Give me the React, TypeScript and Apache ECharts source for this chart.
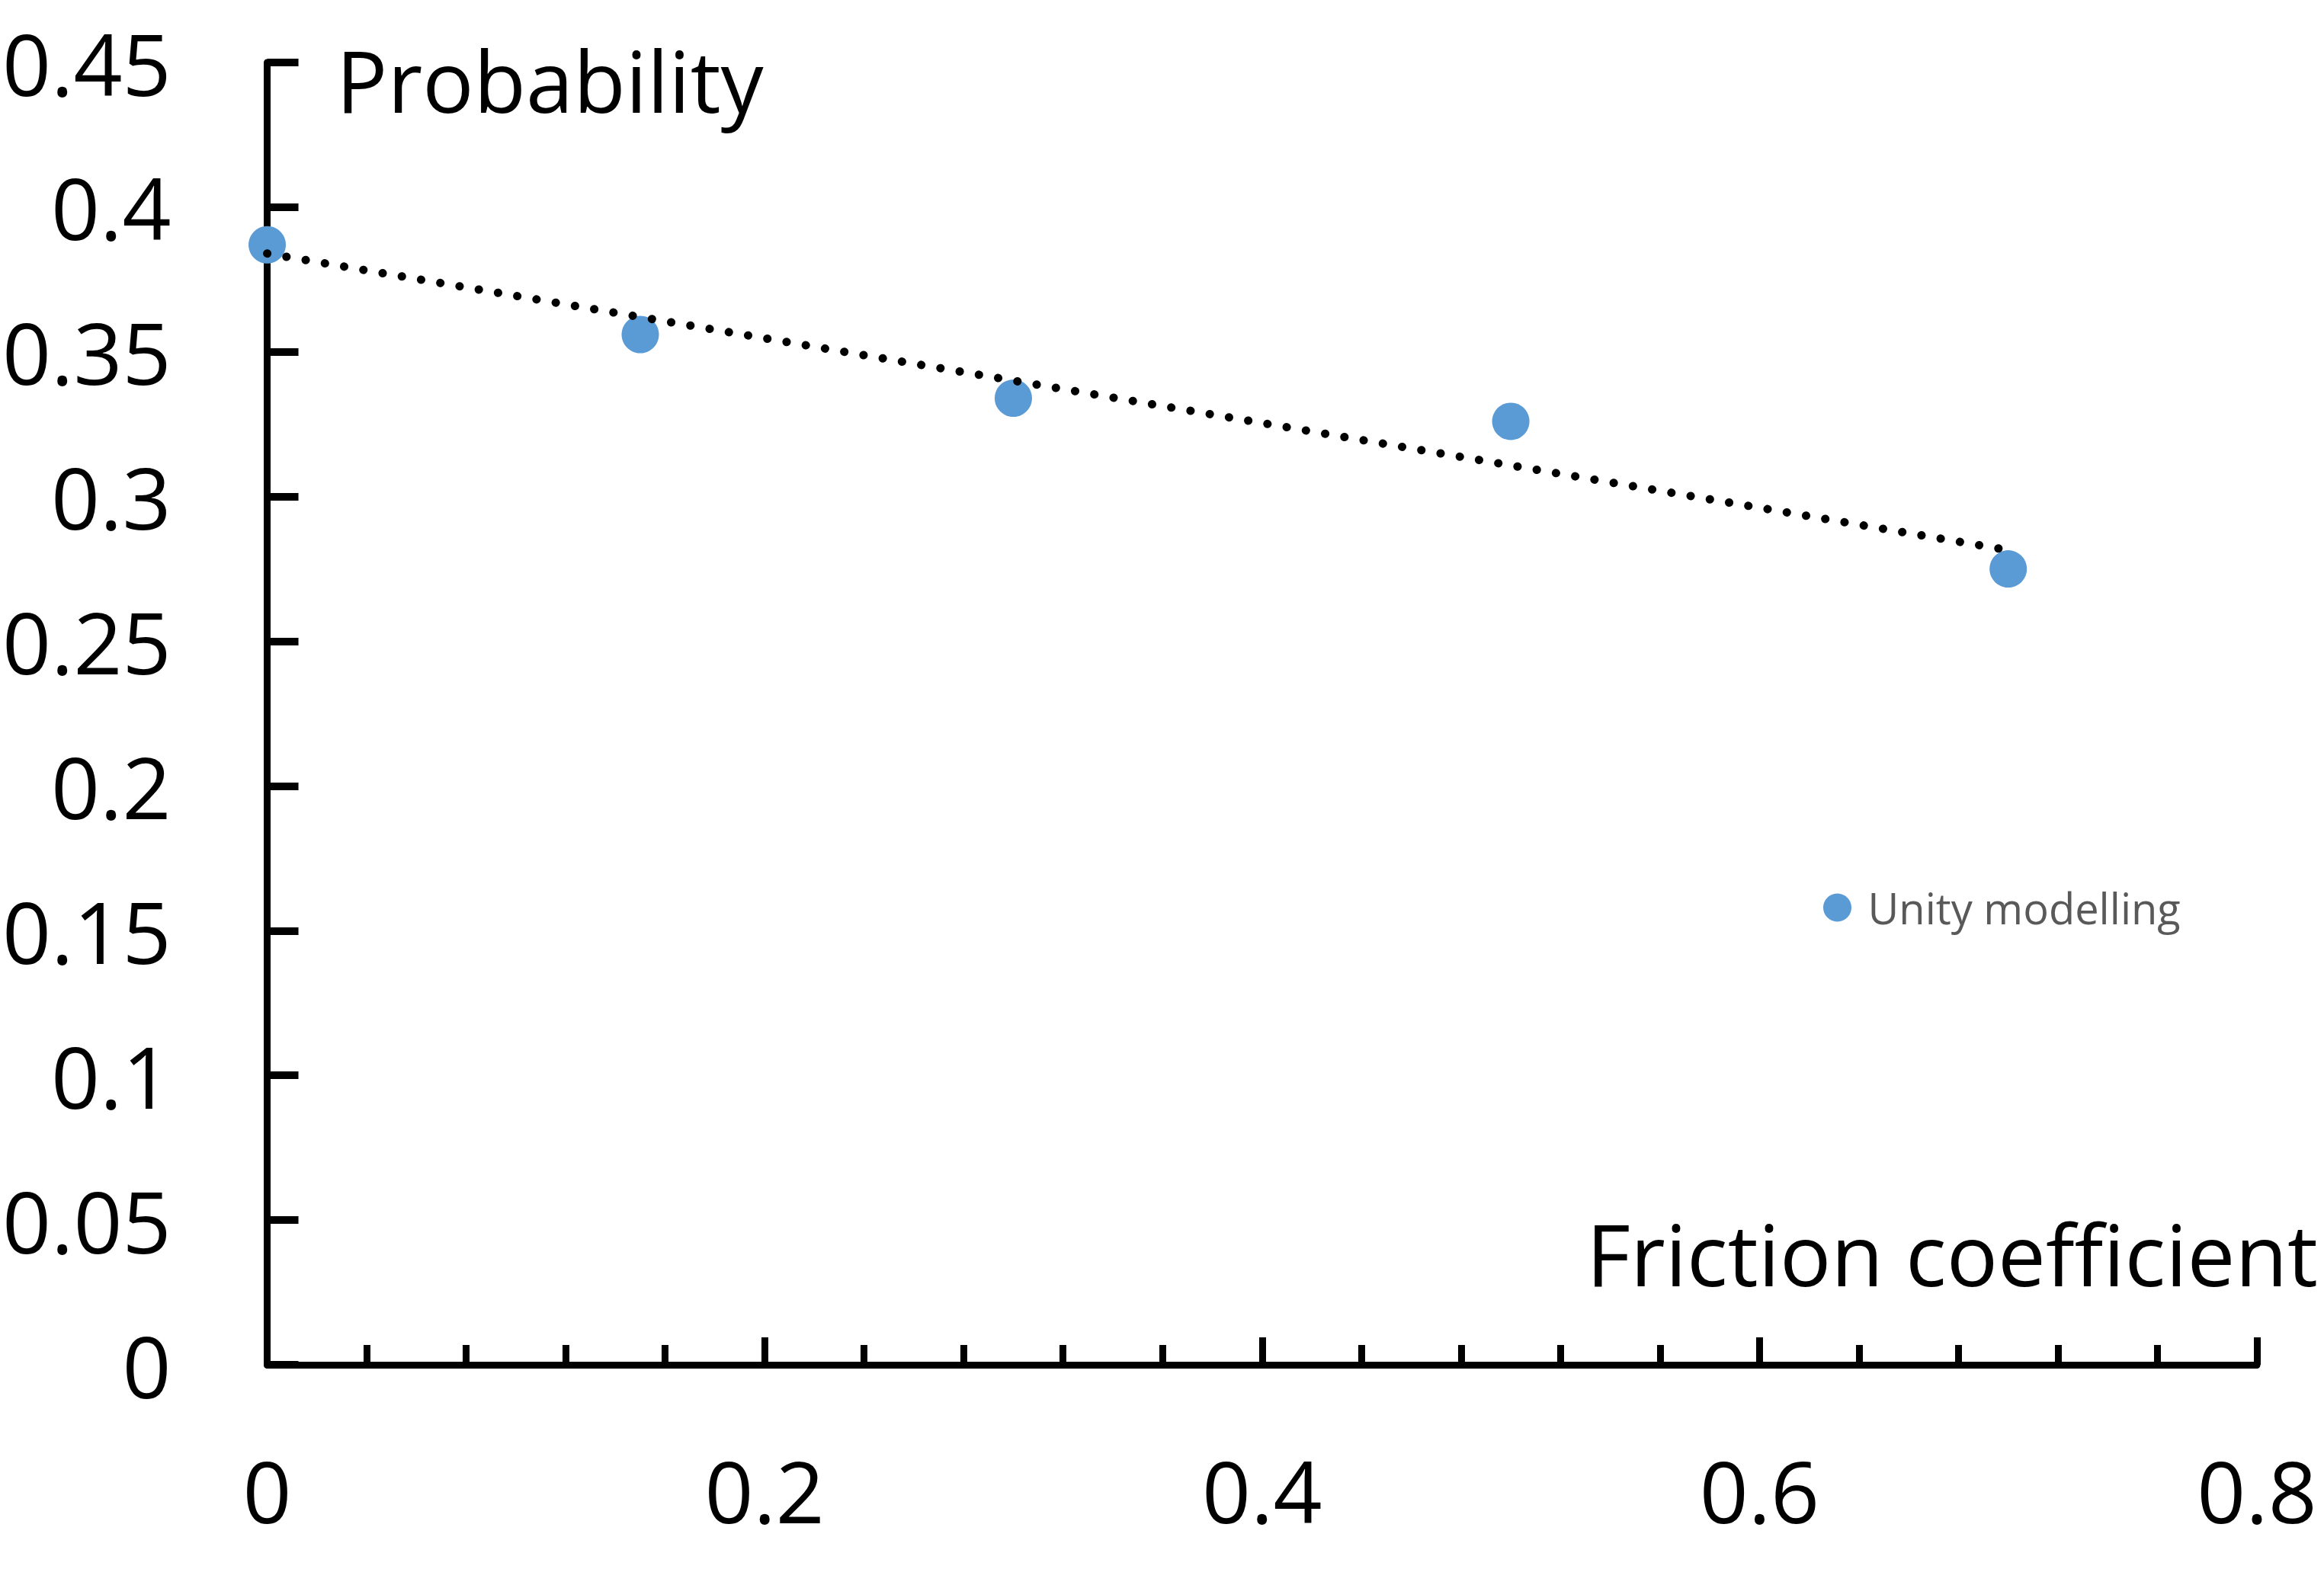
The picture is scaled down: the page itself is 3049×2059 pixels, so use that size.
import React, { useEffect, useRef } from "react";
import * as echarts from "echarts";

const seriesName = "Unity modelling";
const frictionValues = [0, 0.15, 0.3, 0.5, 0.7];
const probabilityValues = [0.387, 0.356, 0.334, 0.326, 0.275];
const trendX = [0, 0.7];
const trendY = [0.384, 0.2815];
const xTickValues = [0, 0.2, 0.4, 0.6, 0.8];
const yTickValues = [0, 0.05, 0.1, 0.15, 0.2, 0.25, 0.3, 0.35, 0.4, 0.45];
const xAxisTitle = "Friction coefficient";
const yAxisTitle = "Probability";

const FONT = "'Open Sans', sans-serif";

export default function App() {
  const ref = useRef<HTMLDivElement>(null);
  useEffect(() => {
    if (!ref.current) return;
    const chart = echarts.init(ref.current, null, { renderer: "svg" });
    const scatterData = frictionValues.map((x, i) => [x, probabilityValues[i]]);
    const trendData = trendX.map((x, i) => [x, trendY[i]]);
    chart.setOption({
      animation: false,
      backgroundColor: "#ffffff",
      grid: { left: 349, right: 88, top: 82, bottom: 268, containLabel: false },
      legend: {
        data: [{ name: seriesName, icon: "circle", itemStyle: { color: "#5B9BD5", opacity: 1 } }],
        left: 2392,
        top: 1163,
        padding: 0,
        itemWidth: 70,
        itemHeight: 37,
        textStyle: { fontSize: 56, color: "#595959", fontFamily: FONT },
      },
      xAxis: {
        type: "value",
        min: xTickValues[0],
        max: xTickValues[xTickValues.length - 1],
        interval: 0.2,
        axisLine: { show: true, onZero: false, lineStyle: { color: "#000", width: 9 } },
        axisTick: { show: true, inside: true, length: 36, lineStyle: { color: "#000", width: 9 } },
        minorTick: { show: true, splitNumber: 5, length: 26, lineStyle: { color: "#000", width: 9 } },
        splitLine: { show: false },
        minorSplitLine: { show: false },
        axisLabel: { margin: 108, fontSize: 112, color: "#000", fontFamily: FONT },
      },
      yAxis: {
        type: "value",
        min: yTickValues[0],
        max: yTickValues[yTickValues.length - 1],
        interval: 0.05,
        axisLine: { show: true, onZero: false, lineStyle: { color: "#000", width: 9 } },
        axisTick: { show: true, inside: true, length: 41, lineStyle: { color: "#000", width: 10 } },
        splitLine: { show: false },
        axisLabel: { margin: 126, fontSize: 112, color: "#000", fontFamily: FONT },
      },
      graphic: [
        {
          type: "text",
          x: 441,
          y: 104,
          style: {
            text: yAxisTitle,
            font: `112px ${FONT}`,
            fill: "#000",
            align: "left",
            verticalAlign: "middle",
          },
        },
        {
          type: "text",
          x: 3041,
          y: 1644,
          style: {
            text: xAxisTitle,
            font: `112px ${FONT}`,
            fill: "#000",
            align: "right",
            verticalAlign: "middle",
          },
        },
      ],
      series: [
        {
          name: seriesName,
          type: "scatter",
          data: scatterData,
          symbol: "circle",
          symbolSize: 49,
          itemStyle: { color: "#5B9BD5", opacity: 1 },
          z: 2,
        },
        {
          name: "trend",
          type: "line",
          data: trendData,
          showSymbol: false,
          symbol: "none",
          lineStyle: { color: "#000", width: 11, type: [0.1, 25.5], cap: "round" },
          z: 3,
          silent: true,
        },
      ],
    });
    return () => chart.dispose();
  }, []);
  return (
    <div
      ref={ref}
      style={{ position: "absolute", left: 0, top: 0, width: 3049, height: 2059, background: "#fff" }}
    />
  );
}
